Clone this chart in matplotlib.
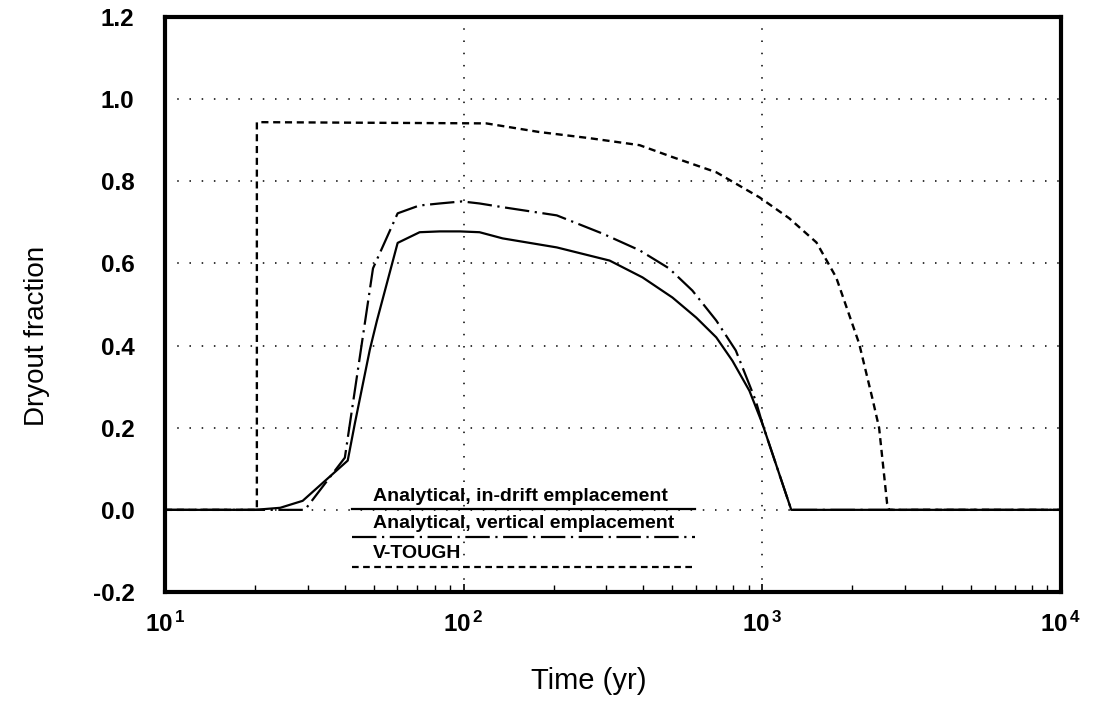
import matplotlib
matplotlib.use('Agg')
import matplotlib.pyplot as plt
import matplotlib.ticker as mticker

# Data (time in yr, dryout fraction)
inDriftTime = [10, 20, 24.3, 28.9, 40.9, 43.2, 48.5, 51.2, 60.1, 71.2, 83.2, 97, 113,
               135, 205, 308, 397, 500, 601, 701, 794, 905, 1000, 1250, 10000]
inDriftFrac = [0.0, 0.0, 0.005, 0.022, 0.12, 0.21, 0.39, 0.46, 0.65, 0.676, 0.678, 0.678, 0.676,
               0.661, 0.639, 0.607, 0.566, 0.517, 0.468, 0.42, 0.363, 0.29, 0.21, 0.0, 0.0]

verticalTime = [10, 29.4, 40, 49.7, 60.1, 71, 83, 98.6, 113, 135, 205, 291, 388,
                487, 583, 701, 815, 950, 1000, 1250, 10000]
verticalFrac = [0.0, 0.0, 0.127, 0.588, 0.722, 0.741, 0.746, 0.751, 0.746, 0.737, 0.717, 0.673, 0.632,
                0.588, 0.534, 0.461, 0.388, 0.266, 0.21, 0.0, 0.0]

vtoughTime = [10, 20.3, 20.3, 119, 179, 264, 388, 500, 701, 978, 1230, 1518, 1767,
              2109, 2333, 2460, 2617, 2660, 10000]
vtoughFrac = [0.0, 0.0, 0.944, 0.941, 0.92, 0.905, 0.888, 0.859, 0.822, 0.761, 0.71, 0.651, 0.566,
              0.405, 0.273, 0.2, 0.015, 0.0, 0.0]

legendLabels = ['Analytical, in-drift emplacement',
                'Analytical, vertical emplacement',
                'V-TOUGH']
xTicks = [10, 100, 1000, 10000]
xTickLabels = [r'$10^{\,1}$', r'$10^{\,2}$', r'$10^{\,3}$', r'$10^{\,4}$']
yTicks = [-0.2, 0.0, 0.2, 0.4, 0.6, 0.8, 1.0, 1.2]

# Line styles
solidStyle = '-'
dashDotStyle = (0, (11, 2.5, 1, 2.5))
dashStyle = (0, (3, 2))

#   Default MPL Settings
def mplDefaults():
    plt.rc('font', family='Liberation Sans', size=16)
    plt.rc('mathtext', fontset='custom', rm='Liberation Sans:bold',
           it='Liberation Sans:bold', bf='Liberation Sans:bold')
mplDefaults()

fig = plt.figure(figsize=(10.98, 7.18), dpi=100)
ax = fig.add_axes([0.1503, 0.1755, 0.816, 0.8008])

ax.plot(inDriftTime, inDriftFrac, color='black', lw=1.6, ls=solidStyle)
ax.plot(verticalTime, verticalFrac, color='black', lw=1.6, ls=dashDotStyle)
ax.plot(vtoughTime, vtoughFrac, color='black', lw=1.7, ls=dashStyle)

ax.set_xscale('log')
ax.set_xlim(10, 10000)
ax.set_ylim(-0.2, 1.2)

# Dotted grid at the major ticks
ax.grid(True, which='major', color='black', ls=(0, (1, 7)), lw=1.1)

ax.set_xticks(xTicks)
ax.set_xticklabels(xTickLabels, fontsize=17.5)
ax.xaxis.set_minor_locator(mticker.LogLocator(base=10, subs=range(2, 10)))
ax.xaxis.set_minor_formatter(mticker.NullFormatter())
ax.tick_params(axis='x', which='major', direction='in', length=6, width=1.2, pad=14)
ax.tick_params(axis='x', which='minor', direction='in', length=5, width=1.0)

ax.set_yticks(yTicks)
ax.set_yticklabels(['%.1f' % v for v in yTicks], fontsize=17.5, fontweight='bold')
ax.tick_params(axis='y', which='both', length=0, pad=22)

for side in ['top', 'bottom', 'left', 'right']:
    ax.spines[side].set_linewidth(3.0)

ax.set_xlabel('Time (yr)', fontsize=21)
ax.set_ylabel('Dryout fraction', fontsize=20)
ax.xaxis.set_label_coords(0.473, -0.13)
ax.yaxis.set_label_coords(-0.128, 0.445)

# Legend drawn by hand: text above each line sample
legendStyles = [solidStyle, dashDotStyle, dashStyle]
lineY = [0.144, 0.0957, 0.0435]
for label, style, yPos in zip(legendLabels, legendStyles, lineY):
    ax.plot([0.209, 0.592], [yPos, yPos], transform=ax.transAxes, color='black',
            lw=1.6, ls=style)
    ax.text(0.232, yPos + 0.008, label, transform=ax.transAxes, fontsize=14,
            fontweight='bold', ha='left', va='bottom')

fig.savefig('out.png', dpi=100)
